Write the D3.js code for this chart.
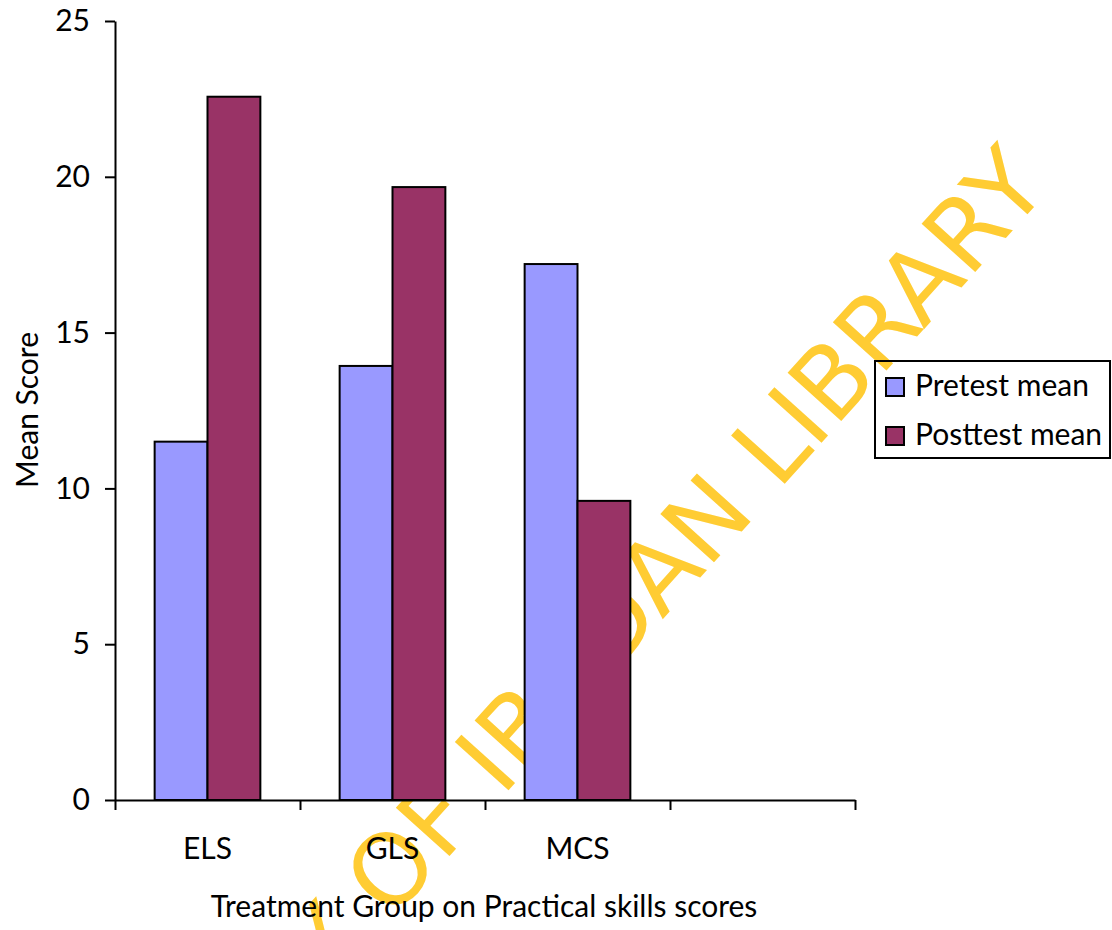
<!DOCTYPE html>
<html>
<head>
<meta charset="utf-8">
<script src="https://cdn.jsdelivr.net/npm/d3@7"></script>
<style>
  html, body { margin: 0; padding: 0; background: #fff; }
  svg { display: block; }
  text { font-family: Lato, "Open Sans", sans-serif; }
</style>
</head>
<body>
<svg id="chart" width="1112" height="930"></svg>
<script>
// Mean practical-skills scores by treatment group
const categories = ["ELS", "GLS", "MCS"];
const axisSlots = ["ELS", "GLS", "MCS", ""];
const seriesNames = ["Pretest mean", "Posttest mean"];
const pretestMean = [11.5, 13.93, 17.2];
const posttestMean = [22.57, 19.67, 9.6];
const yTicks = [0, 5, 10, 15, 20, 25];
const seriesColors = ["#9999FF", "#993366"];

const svg = d3.select("#chart");
const plot = { left: 115, right: 855, top: 21, bottom: 800 };
const fontSize = 30;

// Library watermark, sitting beneath the chart marks
svg.append("text")
  .attr("transform", "translate(1051,188) rotate(-48)")
  .attr("text-anchor", "end")
  .style("font-family", "'DejaVu Sans', sans-serif")
  .style("font-size", "99px")
  .attr("fill", "#FFCC33")
  .text("UNIVERSITY OF IBADAN LIBRARY");

const x = d3.scaleBand().domain(axisSlots).range([plot.left, plot.right]);
const xSeries = d3.scaleBand().domain(seriesNames)
  .range([0, x.bandwidth()]).paddingInner(0).paddingOuter(0.75);
const y = d3.scaleLinear().domain([0, 25]).range([plot.bottom, plot.top]);

const rows = categories.map((c, i) => ({
  cat: c,
  values: [
    { name: seriesNames[0], v: pretestMean[i] },
    { name: seriesNames[1], v: posttestMean[i] }
  ]
}));

const color = d3.scaleOrdinal().domain(seriesNames).range(seriesColors);

// Bars
const groups = svg.append("g").selectAll("g")
  .data(rows).join("g")
  .attr("transform", d => `translate(${x(d.cat)},0)`);

groups.selectAll("rect")
  .data(d => d.values).join("rect")
  .attr("x", d => xSeries(d.name))
  .attr("y", d => y(d.v))
  .attr("width", xSeries.bandwidth())
  .attr("height", d => y(0) - y(d.v))
  .attr("fill", d => color(d.name))
  .attr("stroke", "#000")
  .attr("stroke-width", 2);

// Y axis
const yAxis = svg.append("g")
  .attr("transform", `translate(${plot.left},0)`)
  .call(d3.axisLeft(y).tickValues(yTicks).tickSize(10).tickPadding(15).tickSizeOuter(0));
yAxis.select(".domain").attr("stroke", "#000").attr("stroke-width", 2);
yAxis.selectAll(".tick line").attr("stroke", "#000").attr("stroke-width", 2);
yAxis.selectAll(".tick text")
  .style("font-family", "Lato, sans-serif")
  .style("font-size", fontSize + "px")
  .attr("fill", "#000");

// X axis: ticks at the slot boundaries, labels centred in each slot
const xEdges = d3.scaleLinear().domain([0, axisSlots.length]).range([plot.left, plot.right]);
const xAxis = svg.append("g")
  .attr("transform", `translate(0,${plot.bottom})`)
  .call(d3.axisBottom(xEdges).tickValues(d3.range(axisSlots.length + 1))
    .tickFormat("").tickSize(10).tickSizeOuter(0));
xAxis.select(".domain").attr("stroke", "#000").attr("stroke-width", 2);
xAxis.selectAll(".tick line").attr("stroke", "#000").attr("stroke-width", 2);

svg.append("g").selectAll("text")
  .data(categories).join("text")
  .attr("x", d => x(d) + x.bandwidth() / 2)
  .attr("y", 859)
  .attr("text-anchor", "middle")
  .style("font-size", fontSize + "px")
  .attr("fill", "#000")
  .text(d => d);

// Axis titles
svg.append("text")
  .attr("x", 484)
  .attr("y", 917)
  .attr("text-anchor", "middle")
  .style("font-size", fontSize + "px")
  .attr("fill", "#000")
  .text("Treatment Group on Practical skills scores");

svg.append("text")
  .attr("transform", "translate(38,410) rotate(-90)")
  .attr("text-anchor", "middle")
  .style("font-size", fontSize + "px")
  .attr("fill", "#000")
  .text("Mean Score");

// Legend
const legend = svg.append("g");
legend.append("rect")
  .attr("x", 875).attr("y", 361)
  .attr("width", 235).attr("height", 97)
  .attr("fill", "none")
  .attr("stroke", "#000")
  .attr("stroke-width", 2);

const items = legend.selectAll("g.item")
  .data(seriesNames).join("g")
  .attr("class", "item")
  .attr("transform", (d, i) => `translate(886,${378 + i * 49})`);
items.append("rect")
  .attr("width", 18).attr("height", 18)
  .attr("fill", d => color(d))
  .attr("stroke", "#000")
  .attr("stroke-width", 2);
items.append("text")
  .attr("x", 29).attr("y", 18)
  .style("font-size", fontSize + "px")
  .attr("fill", "#000")
  .text(d => d);
</script>
</body>
</html>
